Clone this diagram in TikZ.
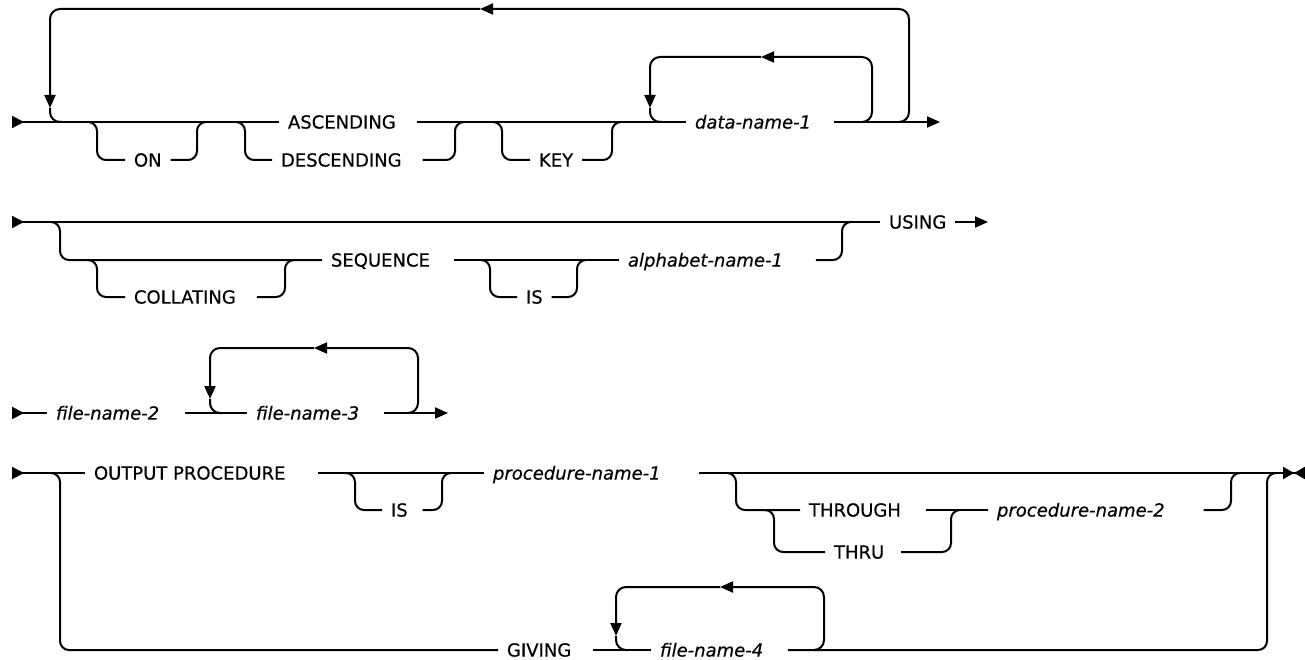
\documentclass[tikz,border=0pt]{standalone}
\usepackage{fontspec}
\setmainfont{DejaVu Sans}[FakeBold=0.4]
\usetikzlibrary{arrows.meta}

\begin{document}
\begin{tikzpicture}[x=1pt,y=-1pt,line width=2pt,font=\fontsize{18}{21}\selectfont,
>={Triangle[length=13pt,width=11pt]},
kw/.style={anchor=west,inner xsep=8pt,inner ysep=0pt,text height=13.1pt,text depth=0pt},
var/.style={kw,font=\fontsize{18}{21}\selectfont\itshape},
railin/.style={{Triangle[reversed,length=12pt,width=12pt]}-},
railend/.style={-{Triangle[length=11pt,width=12pt]Triangle[reversed,length=11pt,width=12pt]}},
opt/.style={rounded corners=9pt},
rep/.style={rounded corners=10pt}]
\useasboundingbox (0,0) rectangle (1305,660);

% line 1: ON ASCENDING/DESCENDING KEY data-name-1
\coordinate (r1s) at (12,122);
\coordinate (r1e) at (940,122);
\node[kw] (asc) at (279,122) {ASCENDING};
\node[kw] (on) at (125,160) {ON};
\node[kw] (desc) at (272,160) {DESCENDING};
\node[kw] (key) at (530,160) {KEY};
\node[var] (dn1) at (686,122) {data-name-1};
\coordinate (on-a) at (88,122);
\coordinate (on-b) at (206,122);
\coordinate (asc-a) at (236,122);
\coordinate (asc-b) at (464,122);
\coordinate (key-a) at (493,122);
\coordinate (key-b) at (621,122);
\coordinate (in-r) at (862,122);
\coordinate (in-t) at (761,57);
\coordinate (in-d) at (650,108);
\coordinate (in-l) at (662,122);
\coordinate (out-r) at (899,122);
\coordinate (out-t) at (480,9);
\coordinate (out-d) at (50,108);
\coordinate (out-l) at (62,122);
\draw[railin] (r1s) -- (asc.west);
\draw ([xshift=12pt]asc.east) -- (dn1.west);
\draw[->] ([xshift=14pt]dn1.east) -- (r1e);
\draw[opt] (on-a) -- ++(9,0) |- (on.west);
\draw[opt] (on.east) -| ([xshift=-9pt]on-b) -- (on-b);
\draw[opt] (asc-a) -- ++(9,0) |- (desc.west);
\draw[opt] ([xshift=12pt]desc.east) -| ([xshift=-9pt]asc-b) -- (asc-b);
\draw[opt] (key-a) -- ++(9,0) |- (key.west);
\draw[opt] (key.east) -| ([xshift=-9pt]key-b) -- (key-b);
\draw[rep,->] (in-r) -- ++(10,0) |- (in-t);
\draw[rep,->] (in-t) -| (in-d);
\draw[rep] (in-d) |- (in-l);
\draw[rep,->] (out-r) -- ++(10,0) |- (out-t);
\draw[rep,->] (out-t) -| (out-d);
\draw[rep] (out-d) |- (out-l);

% line 2: COLLATING SEQUENCE IS alphabet-name-1 USING
\coordinate (r2s) at (12,222);
\coordinate (r2e) at (988,222);
\node[kw] (using) at (880,222) {USING};
\node[kw] (seq) at (322,260) {SEQUENCE};
\node[kw] (coll) at (125,297) {COLLATING};
\node[kw] (is1) at (517,297) {IS};
\node[var] (alpha) at (619,260) {alphabet-name-1};
\coordinate (sq-a) at (50,222);
\coordinate (sq-b) at (852,222);
\coordinate (co-a) at (88,260);
\coordinate (co-b) at (294,260);
\coordinate (is1-a) at (481,260);
\coordinate (is1-b) at (586,260);
\draw[railin] (r2s) -- (using.west);
\draw[->] (using.east) -- (r2e);
\draw[opt] (sq-a) -- ++(10,0) |- (seq.west);
\draw ([xshift=15pt]seq.east) -- (alpha.west);
\draw[opt] ([xshift=24pt]alpha.east) -| ([xshift=-10pt]sq-b) -- (sq-b);
\draw[opt] (co-a) -- ++(9,0) |- (coll.west);
\draw[opt] ([xshift=12pt]coll.east) -| ([xshift=-9pt]co-b) -- (co-b);
\draw[opt] (is1-a) -- ++(9,0) |- (is1.west);
\draw[opt] (is1.east) -| ([xshift=-9pt]is1-b) -- (is1-b);

% line 3: file-name-2 file-name-3
\coordinate (r3s) at (12,413);
\coordinate (r3e) at (448,413);
\node[var] (fn2) at (47,413) {file-name-2};
\node[var] (fn3) at (247,413) {file-name-3};
\coordinate (l3-r) at (408,413);
\coordinate (l3-t) at (314,348);
\coordinate (l3-d) at (210,399);
\coordinate (l3-l) at (222,413);
\draw[railin] (r3s) -- (fn2.west);
\draw ([xshift=17pt]fn2.east) -- (fn3.west);
\draw[->] ([xshift=16pt]fn3.east) -- (r3e);
\draw[rep,->] (l3-r) -- ++(10,0) |- (l3-t);
\draw[rep,->] (l3-t) -| (l3-d);
\draw[rep] (l3-d) |- (l3-l);

% line 4: OUTPUT PROCEDURE ... / GIVING file-name-4
\coordinate (r4s) at (12,473);
\coordinate (r4e) at (1305,473);
\node[kw] (outp) at (85,473) {OUTPUT PROCEDURE};
\node[kw] (is2) at (382,510) {IS};
\node[var] (proc1) at (484,473) {procedure-name-1};
\node[kw] (through) at (800,510) {THROUGH};
\node[kw] (thru) at (825,552) {THRU};
\node[var] (proc2) at (988,510) {procedure-name-2};
\node[kw] (giving) at (498,650) {GIVING};
\node[var] (fn4) at (651,650) {file-name-4};
\coordinate (is2-a) at (345,473);
\coordinate (is2-b) at (451,473);
\coordinate (th-a) at (727,473);
\coordinate (th-b) at (1240,473);
\coordinate (tr-a) at (765,510);
\coordinate (tr-b) at (960,510);
\coordinate (gv-a) at (50,473);
\coordinate (gv-b) at (1277,473);
\coordinate (l4-r) at (814,650);
\coordinate (l4-t) at (720,587);
\coordinate (l4-d) at (616,636);
\coordinate (l4-l) at (628,650);
\draw[railin] (r4s) -- (outp.west);
\draw ([xshift=24pt]outp.east) -- (proc1.west);
\draw[railend] ([xshift=29pt]proc1.east) -- (r4e);
\draw[opt] (is2-a) -- ++(10,0) |- (is2.west);
\draw[opt] ([xshift=6pt]is2.east) -| ([xshift=-9pt]is2-b) -- (is2-b);
\draw[opt] (th-a) -- ++(9,0) |- (through.west);
\draw ([xshift=16pt]through.east) -- (proc2.west);
\draw[opt] ([xshift=30pt]proc2.east) -| ([xshift=-9pt]th-b) -- (th-b);
\draw[opt] (tr-a) -- ++(9,0) |- (thru.west);
\draw[opt] ([xshift=8pt]thru.east) -| ([xshift=-9pt]tr-b) -- (tr-b);
\draw[opt] (gv-a) -- ++(10,0) |- (giving.west);
\draw ([xshift=13pt]giving.east) -- (fn4.west);
\draw[opt] ([xshift=16pt]fn4.east) -| ([xshift=-10pt]gv-b) -- (gv-b);
\draw[rep,->] (l4-r) -- ++(10,0) |- (l4-t);
\draw[rep,->] (l4-t) -| (l4-d);
\draw[rep] (l4-d) |- (l4-l);
\end{tikzpicture}
\end{document}
